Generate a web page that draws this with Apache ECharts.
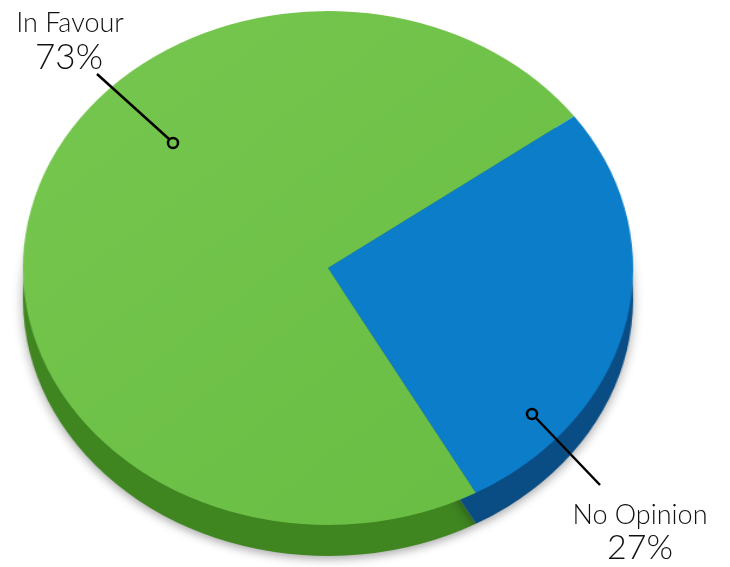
<!DOCTYPE html>
<html>
<head>
<meta charset="utf-8">
<script src="https://cdn.jsdelivr.net/npm/echarts@6/dist/echarts.min.js"></script>
<style>
  html, body { margin: 0; padding: 0; background: #fff; overflow: hidden; }
  #wrap { position: relative; width: 730px; height: 567px; overflow: hidden; }
  #pie { position: absolute; left: 0; top: 0; width: 730px; height: 567px;
         transform: scaleX(1.187); transform-origin: 328px 0; }
  #labels { position: absolute; left: 0; top: 0; width: 730px; height: 567px; }
</style>
</head>
<body>
<div id="wrap">
  <div id="pie"></div>
  <div id="labels"></div>
</div>
<script>
const categories = ['In Favour', 'No Opinion']
const values = [73, 27]
const topColors = ['#6fc248', '#0b7dc9']
const sideColors = ['#3f8621', '#0a4d84']

const total = values.reduce((a, b) => a + b, 0)
const percents = values.map((v) => Math.round((v / total) * 100) + '%')

const pieChart = echarts.init(document.getElementById('pie'))

const makeData = (colors, top) => categories.map((name, i) => ({
  name,
  value: values[i],
  itemStyle: top
    ? {
      color: i === 0
        ? new echarts.graphic.LinearGradient(0, 0, 1, 1, [
          { offset: 0, color: '#76c74f' },
          { offset: 1, color: '#69bd43' }
        ])
        : colors[i]
    }
    : { color: colors[i] }
}))

pieChart.setOption({
  backgroundColor: 'transparent',
  animation: false,
  series: [
    {
      type: 'pie',
      silent: true,
      center: [328, 299],
      radius: [0, 257],
      startAngle: 299,
      label: { show: false },
      labelLine: { show: false },
      itemStyle: {
        shadowBlur: 10,
        shadowColor: 'rgba(0,0,0,0.35)',
        shadowOffsetY: 3
      },
      data: makeData(sideColors, false)
    },
    {
      type: 'pie',
      silent: true,
      center: [328, 268],
      radius: [0, 257],
      startAngle: 299,
      label: { show: false },
      labelLine: { show: false },
      data: makeData(topColors, true)
    }
  ]
})

const labelChart = echarts.init(document.getElementById('labels'))

const textStyle = (text, x, y, size) => ({
  type: 'text',
  x,
  y,
  style: {
    text,
    fontFamily: 'Lato',
    fontWeight: 300,
    fontSize: size,
    fill: '#111',
    textAlign: 'center',
    textVerticalAlign: 'bottom'
  }
})

labelChart.setOption({
  backgroundColor: 'transparent',
  animation: false,
  graphic: [
    textStyle(categories[0], 70, 37, 27),
    textStyle(percents[0], 69, 75, 35),
    textStyle(categories[1], 640, 529, 27),
    textStyle(percents[1], 640, 565, 34),
    {
      type: 'line',
      shape: { x1: 97, y1: 74, x2: 169, y2: 139 },
      style: { stroke: '#000', lineWidth: 2.5 }
    },
    {
      type: 'circle',
      shape: { cx: 173, cy: 143, r: 5 },
      style: { fill: 'transparent', stroke: '#000', lineWidth: 2.5 }
    },
    {
      type: 'line',
      shape: { x1: 536, y1: 418, x2: 600, y2: 485 },
      style: { stroke: '#000', lineWidth: 2.5 }
    },
    {
      type: 'circle',
      shape: { cx: 532, cy: 414, r: 5 },
      style: { fill: 'transparent', stroke: '#000', lineWidth: 2.5 }
    }
  ]
})
</script>
</body>
</html>
